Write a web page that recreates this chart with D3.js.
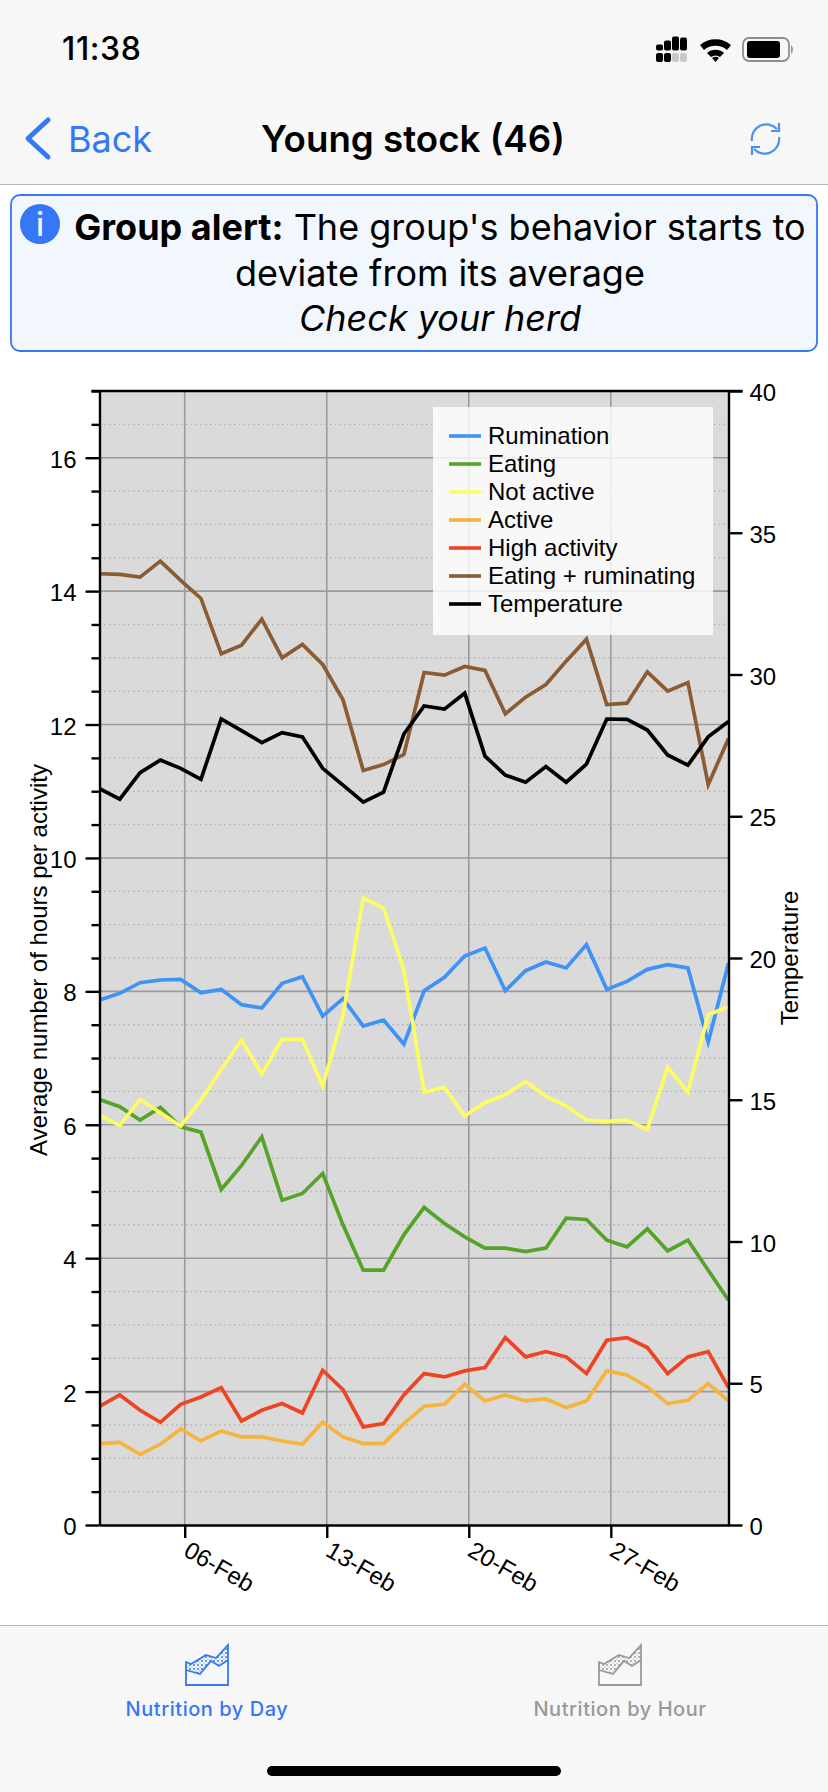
<!DOCTYPE html>
<html>
<head>
<meta charset="utf-8">
<script src="https://cdn.jsdelivr.net/npm/d3@7"></script>
<style>
  html, body { margin: 0; padding: 0; background: #fff; }
  svg { display: block; }
  .ui { font-family: Inter, "Noto Sans", sans-serif; }
  .chart text { font-family: "Liberation Sans", Arial, sans-serif; }
</style>
</head>
<body>
<div id="chart"></div>
<script>
// =======================
// DATA
// one reading per day, taken a bit before midnight
// =======================
const days = [
  "2021-02-01", "2021-02-02", "2021-02-03", "2021-02-04", "2021-02-05", "2021-02-06", "2021-02-07", "2021-02-08",
  "2021-02-09", "2021-02-10", "2021-02-11", "2021-02-12", "2021-02-13", "2021-02-14", "2021-02-15", "2021-02-16",
  "2021-02-17", "2021-02-18", "2021-02-19", "2021-02-20", "2021-02-21", "2021-02-22", "2021-02-23", "2021-02-24",
  "2021-02-25", "2021-02-26", "2021-02-27", "2021-02-28", "2021-03-01", "2021-03-02", "2021-03-03", "2021-03-04"
];

const rumination = [7.87, 7.97, 8.13, 8.17, 8.18, 7.98, 8.03, 7.80, 7.75, 8.12, 8.22, 7.63, 7.89, 7.48, 7.57, 7.21,
  8.01, 8.21, 8.53, 8.65, 8.01, 8.31, 8.44, 8.35, 8.70, 8.03, 8.15, 8.33, 8.40, 8.35, 7.24, 8.42];
const eating = [6.38, 6.27, 6.07, 6.26, 5.97, 5.89, 5.03, 5.39, 5.82, 4.87, 4.97, 5.27, 4.50, 3.82, 3.82, 4.35,
  4.76, 4.52, 4.32, 4.15, 4.15, 4.10, 4.15, 4.60, 4.58, 4.27, 4.17, 4.44, 4.11, 4.27, 3.82, 3.37];
const notActive = [6.14, 5.99, 6.38, 6.18, 5.98, 6.37, 6.83, 7.27, 6.76, 7.28, 7.28, 6.58, 7.64, 9.40, 9.25, 8.32,
  6.49, 6.56, 6.13, 6.33, 6.45, 6.65, 6.43, 6.28, 6.07, 6.05, 6.07, 5.93, 6.86, 6.49, 7.65, 7.77];
const active = [1.22, 1.24, 1.06, 1.21, 1.44, 1.26, 1.41, 1.32, 1.32, 1.26, 1.21, 1.54, 1.32, 1.22, 1.22, 1.52,
  1.78, 1.81, 2.11, 1.86, 1.95, 1.86, 1.89, 1.76, 1.86, 2.31, 2.25, 2.07, 1.82, 1.87, 2.12, 1.86];
const highActivity = [1.78, 1.95, 1.72, 1.54, 1.81, 1.92, 2.06, 1.56, 1.72, 1.82, 1.68, 2.32, 2.03, 1.47, 1.52, 1.95,
  2.27, 2.22, 2.31, 2.36, 2.81, 2.52, 2.60, 2.52, 2.27, 2.77, 2.81, 2.66, 2.27, 2.52, 2.60, 2.06];
const eatingRuminating = [14.26, 14.25, 14.21, 14.45, 14.16, 13.89, 13.06, 13.19, 13.58, 13.00, 13.20, 12.90, 12.37, 11.31, 11.40, 11.55,
  12.78, 12.74, 12.87, 12.81, 12.16, 12.41, 12.60, 12.95, 13.28, 12.30, 12.32, 12.79, 12.50, 12.63, 11.10, 11.79];
const temperature = [25.97, 25.60, 26.54, 26.98, 26.69, 26.30, 28.43, 28.02, 27.60, 27.95, 27.80, 26.69, 26.10, 25.50, 25.85, 27.90,
  28.89, 28.78, 29.34, 27.12, 26.45, 26.20, 26.75, 26.20, 26.84, 28.43, 28.42, 28.04, 27.16, 26.80, 27.80, 28.34];

const seriesNames = ["Rumination", "Eating", "Not active", "Active", "High activity", "Eating + ruminating", "Temperature"];
const seriesColors = ["#3f93f5", "#55a428", "#fdfc62", "#f5b53d", "#ee4423", "#8a5c33", "#000000"];

const xTicks = ["2021-02-06", "2021-02-13", "2021-02-20", "2021-02-27"];
const leftTicks = [0, 2, 4, 6, 8, 10, 12, 14, 16];
const leftMinorTicks = [0.5, 1, 1.5, 2.5, 3, 3.5, 4.5, 5, 5.5, 6.5, 7, 7.5, 8.5, 9, 9.5, 10.5, 11, 11.5, 12.5, 13, 13.5, 14.5, 15, 15.5, 16.5, 17];
const rightTicks = [0, 5, 10, 15, 20, 25, 30, 35, 40];

// =======================
// PAGE
// =======================
const W = 828, H = 1792;
const blue = "#3478f6", bar = "#f7f7f7";

const svg = d3.select("#chart").append("svg")
  .attr("width", W)
  .attr("height", H)
  .attr("viewBox", `0 0 ${W} ${H}`);

const plot = { left: 99.5, right: 728.5, top: 391, bottom: 1525 };

// =======================
// CHART
// =======================
const chart = svg.append("g").attr("class", "chart");

const x = d3.scaleUtc()
  .domain([new Date(days[0] + "T19:12Z"), new Date(days[days.length - 1] + "T19:12Z")])
  .range([plot.left, plot.right]);
const y = d3.scaleLinear().domain([0, 17]).range([plot.bottom, plot.top]);
const y2 = d3.scaleLinear().domain([0, 40]).range([plot.bottom, plot.top]);

const xTickDates = xTicks.map(d => new Date(d + "T00:00Z"));

chart.append("rect")
  .attr("x", plot.left)
  .attr("y", plot.top)
  .attr("width", plot.right - plot.left)
  .attr("height", plot.bottom - plot.top)
  .attr("fill", "#dadada");

// Grid
chart.append("g").selectAll("line")
  .data(leftMinorTicks.slice(0, -1))
  .join("line")
    .attr("x1", plot.left)
    .attr("x2", plot.right)
    .attr("y1", d => y(d))
    .attr("y2", d => y(d))
    .attr("stroke", "#b4b4b4")
    .attr("stroke-width", 1.4)
    .attr("stroke-dasharray", "1.6 3.2");

chart.append("g").selectAll("line")
  .data(leftTicks.slice(1))
  .join("line")
    .attr("x1", plot.left)
    .attr("x2", plot.right)
    .attr("y1", d => y(d))
    .attr("y2", d => y(d))
    .attr("stroke", "#9b9b9b")
    .attr("stroke-width", 1.6);

chart.append("g").selectAll("line")
  .data(xTickDates)
  .join("line")
    .attr("x1", d => x(d))
    .attr("x2", d => x(d))
    .attr("y1", plot.top)
    .attr("y2", plot.bottom)
    .attr("stroke", "#9b9b9b")
    .attr("stroke-width", 1.6);

// Lines
chart.append("clipPath").attr("id", "plot-clip")
  .append("rect")
    .attr("x", plot.left)
    .attr("y", plot.top)
    .attr("width", plot.right - plot.left)
    .attr("height", plot.bottom - plot.top);

const lineLeft = d3.line()
  .x((d, i) => x(new Date(days[i] + "T19:12Z")))
  .y(d => y(d));
const lineRight = d3.line()
  .x((d, i) => x(new Date(days[i] + "T19:12Z")))
  .y(d => y2(d));

const series = [rumination, eating, notActive, active, highActivity, eatingRuminating];

chart.append("g").attr("clip-path", "url(#plot-clip)").selectAll("path")
  .data(series)
  .join("path")
    .attr("d", lineLeft)
    .attr("fill", "none")
    .attr("stroke", (d, i) => seriesColors[i])
    .attr("stroke-width", 3.7);

chart.append("path")
  .attr("clip-path", "url(#plot-clip)")
  .attr("d", lineRight(temperature))
  .attr("fill", "none")
  .attr("stroke", seriesColors[6])
  .attr("stroke-width", 3.7);

// Axes
function styleAxis(g) {
  g.select(".domain").attr("stroke", "#000").attr("stroke-width", 2.4);
  g.selectAll(".tick line").attr("stroke", "#000").attr("stroke-width", 2.4);
  g.selectAll("text").attr("fill", "#000").style("font-size", "24px");
}

chart.append("g")
  .attr("transform", `translate(${plot.left},0)`)
  .call(d3.axisLeft(y).tickValues(leftMinorTicks).tickSize(8).tickSizeOuter(0).tickFormat(""))
  .call(styleAxis);

chart.append("g")
  .attr("transform", `translate(${plot.left},0)`)
  .call(d3.axisLeft(y).tickValues(leftTicks).tickSize(14).tickSizeOuter(0).tickPadding(9))
  .call(styleAxis)
  .call(g => g.select(".domain").remove())
  .call(g => g.selectAll("text").attr("dy", "0.4em"));

chart.append("g")
  .attr("transform", `translate(${plot.right},0)`)
  .call(d3.axisRight(y2).tickValues(rightTicks).tickSize(14).tickSizeOuter(0).tickPadding(7))
  .call(styleAxis)
  .call(g => g.selectAll("text").attr("dy", "0.4em"));

chart.append("g")
  .attr("transform", `translate(0,${plot.bottom})`)
  .call(d3.axisBottom(x).tickValues(xTickDates).tickSize(13).tickSizeOuter(0).tickFormat(d3.utcFormat("%d-%b")))
  .call(styleAxis)
  .call(g => g.selectAll("text")
    .attr("text-anchor", "start")
    .attr("y", 0)
    .attr("dy", 0)
    .attr("transform", "translate(-3,30) rotate(30)"));

chart.append("line")
  .attr("x1", plot.left - 8)
  .attr("x2", plot.right + 14)
  .attr("y1", plot.top)
  .attr("y2", plot.top)
  .attr("stroke", "#000")
  .attr("stroke-width", 2.4);

// Axis titles
chart.append("text")
  .attr("transform", "translate(47,960) rotate(-90)")
  .attr("text-anchor", "middle")
  .style("font-size", "24px")
  .text("Average number of hours per activity");

chart.append("text")
  .attr("transform", "translate(798,958) rotate(-90)")
  .attr("text-anchor", "middle")
  .style("font-size", "24px")
  .text("Temperature");

// Legend
const legend = chart.append("g");
legend.append("rect")
  .attr("x", 433)
  .attr("y", 407)
  .attr("width", 280)
  .attr("height", 228)
  .attr("fill", "#fff")
  .attr("fill-opacity", 0.8);

const legendRow = legend.selectAll("g")
  .data(seriesNames)
  .join("g")
    .attr("transform", (d, i) => `translate(449,${436 + i * 28})`);
legendRow.append("line")
  .attr("x2", 32)
  .attr("stroke", (d, i) => seriesColors[i])
  .attr("stroke-width", 3.6);
legendRow.append("text")
  .attr("x", 39)
  .attr("y", 8)
  .style("font-size", "24px")
  .text(d => d);

// =======================
// NAVIGATION BAR
// =======================
const ui = svg.append("g").attr("class", "ui");

ui.append("rect").attr("width", W).attr("height", 184).attr("fill", bar);
ui.append("line").attr("x1", 0).attr("x2", W).attr("y1", 184.5).attr("y2", 184.5).attr("stroke", "#b8b8b8").attr("stroke-width", 1.2);

ui.append("text").attr("x", 62).attr("y", 60).attr("font-size", 32).attr("font-weight", 500).attr("letter-spacing", 0.6).text("11:38");

// Signal
const signalX = [656, 664, 672, 680];
const signalH = [6, 10, 14, 13];
ui.append("g").selectAll("rect").data(signalX).join("rect")
  .attr("x", d => d).attr("width", 7).attr("rx", 2)
  .attr("y", (d, i) => 50.5 - signalH[i] * (i === 3 ? 1 : 1)).attr("height", (d, i) => signalH[i]);
ui.append("g").selectAll("rect").data(signalX).join("rect")
  .attr("x", d => d).attr("width", 7).attr("rx", 2)
  .attr("y", 53).attr("height", 9)
  .attr("fill", (d, i) => i < 2 ? "#000" : "#c8c8c8");

// Wifi
ui.append("path")
  .attr("d", "M700 45 A24 24 0 0 1 731 45 L727 50 A18 18 0 0 0 704 50 Z M707 53 A13 13 0 0 1 724 53 L720 57 A8 8 0 0 0 711 57 Z M712 58 A6 6 0 0 1 719 58 L715.5 62 Z");

// Battery
ui.append("rect").attr("x", 743).attr("y", 38).attr("width", 46).attr("height", 23).attr("rx", 6)
  .attr("fill", "none").attr("stroke", "#8e8e8e").attr("stroke-width", 1.8);
ui.append("rect").attr("x", 747).attr("y", 41).attr("width", 33).attr("height", 17).attr("rx", 3);
ui.append("path").attr("d", "M791 45 q4 4 0 9 Z").attr("fill", "#8e8e8e");

// Back, title, refresh
ui.append("path").attr("d", "M48 120 L28 138.5 L48 157")
  .attr("fill", "none").attr("stroke", blue).attr("stroke-width", 5).attr("stroke-linecap", "round").attr("stroke-linejoin", "round");
ui.append("text").attr("x", 68).attr("y", 152).attr("font-size", 36).attr("fill", blue).text("Back");
ui.append("text").attr("x", 413).attr("y", 152).attr("text-anchor", "middle").attr("font-size", 36.7).attr("font-weight", 600).text("Young stock (46)");

ui.append("path")
  .attr("d", "M752 141 A14.5 14.5 0 0 1 777 129 M779 123 L779 131 L771 131 M779 137 A14.5 14.5 0 0 1 754 149 M752 155 L752 147 L760 147")
  .attr("fill", "none").attr("stroke", "#4a90f0").attr("stroke-width", 2.2);

// =======================
// ALERT
// =======================
ui.append("rect").attr("x", 11).attr("y", 195).attr("width", 806).attr("height", 156).attr("rx", 9)
  .attr("fill", "#f2f7fe").attr("stroke", blue).attr("stroke-width", 1.8);
ui.append("circle").attr("cx", 40).attr("cy", 224).attr("r", 20).attr("fill", blue);
ui.append("text").attr("x", 40).attr("y", 236).attr("text-anchor", "middle").attr("font-size", 32).attr("fill", "#f2f7fe")
  .attr("font-weight", 500).text("i");

const alertLine = ui.append("text").attr("x", 440).attr("y", 240).attr("text-anchor", "middle").attr("font-size", 36);
alertLine.append("tspan").attr("font-weight", 700).text("Group alert:");
alertLine.append("tspan").text(" The group's behavior starts to");
ui.append("text").attr("x", 440).attr("y", 286).attr("text-anchor", "middle").attr("font-size", 36).text("deviate from its average");
ui.append("text").attr("x", 440).attr("y", 331).attr("text-anchor", "middle").attr("font-size", 36).attr("font-style", "italic").text("Check your herd");

// =======================
// TAB BAR
// =======================
ui.append("rect").attr("y", 1625).attr("width", W).attr("height", H - 1625).attr("fill", bar);
ui.append("line").attr("x1", 0).attr("x2", W).attr("y1", 1625.5).attr("y2", 1625.5).attr("stroke", "#b8b8b8").attr("stroke-width", 1.2);

const defs = svg.append("defs");
const tabs = [
  { label: "Nutrition by Day", color: blue, x: 185, cx: 207 },
  { label: "Nutrition by Hour", color: "#999999", x: 598, cx: 620 }
];

tabs.forEach((t, i) => {
  const id = `dots-${i}`;
  const dots = defs.append("pattern").attr("id", id).attr("width", 4).attr("height", 4).attr("patternUnits", "userSpaceOnUse");
  dots.append("circle").attr("cx", 1).attr("cy", 1).attr("r", 1).attr("fill", t.color);
  dots.append("circle").attr("cx", 3).attr("cy", 3).attr("r", 0.6).attr("fill", t.color);

  const icon = ui.append("g").attr("transform", `translate(${t.x},1644)`);
  icon.append("path")
    .attr("d", "M1 18 L6 20 L21 11 L31 14 L43 1 L43 16 L34 22 L26 17 L15 30 L1 26 Z")
    .attr("fill", `url(#${id})`);
  icon.append("path")
    .attr("d", "M1 18 L6 20 L21 11 L31 14 L43 1 L43 41 L1 41 Z M1 26 L15 30 L26 17 L34 22 L43 16")
    .attr("fill", "none").attr("stroke", t.color).attr("stroke-width", 1.8);

  ui.append("text").attr("x", t.cx).attr("y", 1716).attr("text-anchor", "middle")
    .attr("font-size", 20).attr("font-weight", 500).attr("letter-spacing", 0.55).attr("fill", t.color).text(t.label);
});

ui.append("rect").attr("x", 267).attr("y", 1766).attr("width", 294).attr("height", 10).attr("rx", 5);
</script>
</body>
</html>
